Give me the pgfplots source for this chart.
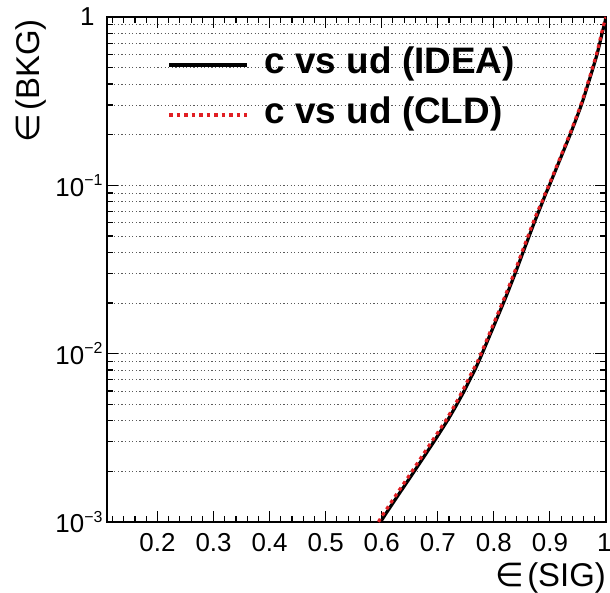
\documentclass[border=0pt]{standalone}
\usepackage{fontspec}
\setmainfont{Liberation Sans}
\newfontfamily\dejavu{DejaVu Sans}
\usepackage{pgfplots}
\usepackage{pgfplotstable}
\pgfplotsset{compat=1.18}
\definecolor{rootred}{RGB}{225,30,35}
\definecolor{gridgray}{RGB}{90,90,90}

\pgfplotstableread{
x y
0.585 0.00075
0.598 0.0010
0.658 0.0020
0.693 0.0030
0.717 0.0040
0.734 0.0050
0.747 0.0060
0.757 0.0070
0.766 0.0080
0.773 0.0090
0.779 0.0100
0.817 0.0200
0.838 0.0300
0.852 0.0400
0.863 0.0500
0.872 0.0600
0.880 0.0700
0.887 0.0800
0.893 0.0900
0.899 0.1000
0.936 0.2000
0.956 0.3000
0.968 0.4000
0.977 0.5000
0.984 0.6000
0.989 0.7000
0.993 0.8000
0.997 0.9000
1.000 1.0000
}\idea

\pgfplotstableread{
x y
0.581 0.00075
0.594 0.0010
0.654 0.0020
0.689 0.0030
0.714 0.0040
0.731 0.0050
0.744 0.0060
0.754 0.0070
0.763 0.0080
0.771 0.0090
0.777 0.0100
0.815 0.0200
0.836 0.0300
0.850 0.0400
0.861 0.0500
0.870 0.0600
0.878 0.0700
0.886 0.0800
0.892 0.0900
0.898 0.1000
0.935 0.2000
0.955 0.3000
0.967 0.4000
0.976 0.5000
0.983 0.6000
0.988 0.7000
0.992 0.8000
0.996 0.9000
1.000 1.0000
}\cld

\newcommand{\supr}[1]{\raisebox{0.42em}{\fontsize{16}{16}\selectfont #1}}

\begin{document}
\begin{tikzpicture}
\useasboundingbox (-107bp,-71bp) rectangle (503bp,522bp);
\begin{axis}[
  scale only axis,
  width=499bp, height=505bp,
  xmin=0.11, xmax=1,
  ymode=log, ymin=1e-3, ymax=1,
  xtick={0.2,0.3,0.4,0.5,0.6,0.7,0.8,0.9,1},
  xticklabels={0.2,0.3,0.4,0.5,0.6,0.7,0.8,0.9,{\makebox[18bp][l]{1}}},
  minor xtick={0.12,0.14,0.16,0.18,0.22,0.24,0.26,0.28,0.32,0.34,0.36,0.38,0.42,0.44,0.46,0.48,0.52,0.54,0.56,0.58,0.62,0.64,0.66,0.68,0.72,0.74,0.76,0.78,0.82,0.84,0.86,0.88,0.92,0.94,0.96,0.98},
  ytick={0.001,0.01,0.1,1},
  yticklabels={{10\supr{−3}},{10\supr{−2}},{10\supr{−1}},{1\kern8bp}},
  minor ytick={0.002,0.003,0.004,0.005,0.006,0.007,0.008,0.009,0.02,0.03,0.04,0.05,0.06,0.07,0.08,0.09,0.2,0.3,0.4,0.5,0.6,0.7,0.8,0.9},
  ymajorgrids, yminorgrids,
  major grid style={gridgray, line width=0.9bp, dash pattern=on 1.2bp off 2.4bp},
  minor grid style={gridgray, line width=0.9bp, dash pattern=on 1.2bp off 2.4bp},
  major tick length=11bp, minor tick length=6bp,
  tick style={black, line width=1.1bp},
  axis line style={line width=1.8bp},
  tick align=inside,
  xtick pos=both, ytick pos=both,
  ticklabel style={font=\fontsize{26}{30}\selectfont},
  xticklabel style={yshift=-8bp},
  yticklabel style={xshift=-1bp},
  xlabel={{\dejavu ∈}\kern3bp(SIG)},
  ylabel={{\dejavu ∈}\kern3bp(BKG)},
  label style={font=\fontsize{33}{38}\selectfont},
  xlabel style={at={(axis description cs:1,-0.1406)}, anchor=south east, inner sep=0pt},
  ylabel style={at={(axis description cs:-0.184,0.996)}, anchor=north east, inner sep=0pt},
  legend style={draw=none, fill=none, at={(axis description cs:0.115,0.943)}, anchor=north west,
    font=\bfseries\fontsize{37}{42}\selectfont, row sep=16bp,
    nodes={inner sep=0pt, text height=26bp, text depth=8bp}},
  legend cell align=left,
  legend image code/.code={\draw[#1] (0bp,0bp) -- (78bp,0bp); \path (94bp,0bp);},
]
\addplot[black, line width=3.2bp, smooth, tension=0.4] table[x=x, y=y] {\idea};
\addlegendentry{c vs ud (IDEA)}
\addplot[rootred, line width=3.2bp, dash pattern=on 3.5bp off 4bp, smooth, tension=0.4] table[x=x, y=y] {\cld};
\addlegendentry{c vs ud (CLD)}
\end{axis}
\end{tikzpicture}
\end{document}
